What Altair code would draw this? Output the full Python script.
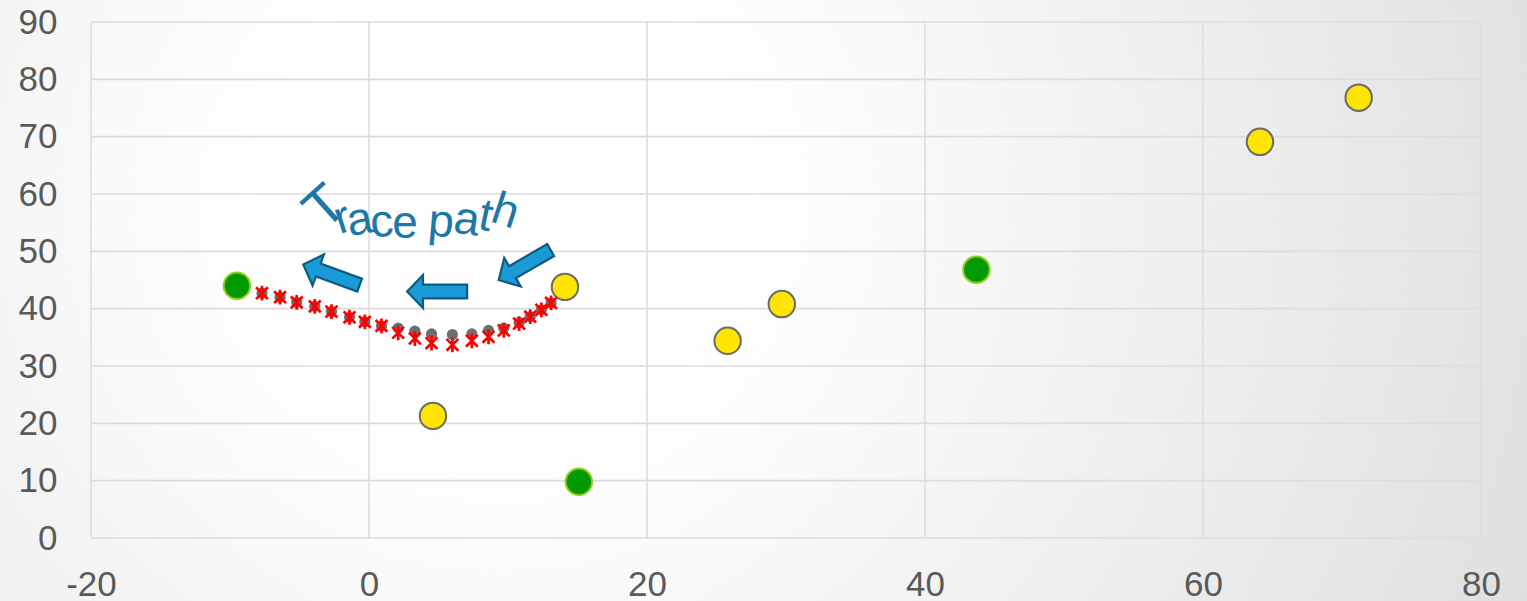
import altair as alt
import pandas as pd

# Axis ranges and tick values
X_TICKS = [-20, 0, 20, 40, 60, 80]
Y_TICKS = [0, 10, 20, 30, 40, 50, 60, 70, 80, 90]

# Large markers
yellow_x = [14.1, 4.6, 25.8, 29.7, 64.1, 71.2]
yellow_y = [43.8, 21.3, 34.4, 40.8, 69.1, 76.8]
green_x = [-9.5, 15.1, 43.7]
green_y = [44.0, 9.8, 46.8]

# Traced path between the two end markers
trace_x = [-7.7, -6.4, -5.2, -3.9, -2.7, -1.4, -0.3, 0.9, 2.1, 3.3,
           4.5, 6.0, 7.4, 8.6, 9.7, 10.8, 11.6, 12.4, 13.1]
trace_gray_y = [42.7, 42.0, 41.1, 40.4, 39.5, 38.5, 37.7, 37.0, 36.6, 36.1,
                35.6, 35.5, 35.6, 36.2, 36.6, 37.6, 38.6, 39.8, 41.0]
trace_red_y = [42.7, 42.0, 41.1, 40.4, 39.5, 38.5, 37.7, 37.0, 35.8, 34.8,
               34.0, 33.7, 34.4, 35.1, 36.2, 37.4, 38.6, 39.8, 41.0]

# Direction arrows (centre and rotation)
arrow_x = [-2.7, 4.9, 11.2]
arrow_y = [45.9, 43.0, 47.6]
arrow_angle = [20, 0, 330]

# "Trace path" set letter by letter along a curve
label_chars = ["T", "r", "a", "c", "e", "p", "a", "t", "h"]
label_x = [-2.3, -1.6, -0.5, 1.0, 2.6, 5.1, 6.9, 8.2, 9.5]
label_y = [55.4, 53.4, 53.0, 52.6, 52.4, 52.6, 53.0, 53.7, 54.6]
label_angle = [318, 342, 350, 355, 0, 5, 8, 12, 18]
label_size = [56, 46, 46, 46, 46, 46, 46, 46, 46]

W, H = 1390, 516
PAD = {"left": 91, "top": 22, "right": 46, "bottom": 63}
FONT = "Liberation Sans"

xs = alt.Scale(domain=[-20, 80], nice=False, zero=False)
ys = alt.Scale(domain=[0, 90], nice=False, zero=False)
common = dict(grid=False, domain=False, ticks=False, labelFontSize=35,
              labelColor="#595959", labelFont=FONT, labelFlush=False,
              labelExpr="'' + datum.value", zindex=1, title=None)
ax_x = alt.Axis(values=X_TICKS, labelPadding=29, **common)
ax_y = alt.Axis(values=Y_TICKS, labelPadding=34, **common)


def X(field):
    return alt.X(f"{field}:Q", scale=xs, axis=ax_x, title=None)


def Y(field):
    return alt.Y(f"{field}:Q", scale=ys, axis=ax_y, title=None)


vgrid = alt.Chart(pd.DataFrame({"x": X_TICKS})).mark_rule(
    color="#dcdcdc", strokeWidth=1.6).encode(x=X("x"))
hgrid = alt.Chart(pd.DataFrame({"y": Y_TICKS})).mark_rule(
    color="#dcdcdc", strokeWidth=1.6).encode(y=Y("y"))

# soft radial shading over the whole canvas
shade = alt.Chart(pd.DataFrame({"k": [0]})).mark_rect(
    fill={
        "gradient": "radial",
        "x1": 0.33, "y1": 0.434, "r1": 0,
        "x2": 0.33, "y2": 0.434, "r2": 0.75,
        "stops": [
            {"offset": 0, "color": "rgba(224,224,224,0)"},
            {"offset": 0.2, "color": "rgba(224,224,224,0)"},
            {"offset": 1, "color": "rgba(222,222,222,1)"},
        ],
    }
).encode(
    x=alt.value(-PAD["left"]), x2=alt.value(W + PAD["right"]),
    y=alt.value(-PAD["top"]), y2=alt.value(H + PAD["bottom"]),
)

trace_df = pd.DataFrame({"x": trace_x, "gy": trace_gray_y, "ry": trace_red_y})
gray_pts = alt.Chart(trace_df).mark_circle(
    size=125, color="#6e6e6e", opacity=1).encode(x=X("x"), y=Y("gy"))
red_pts = alt.Chart(trace_df).mark_point(
    shape="M-1,-1L1,1M-1,1L1,-1M0,-1.25L0,1.25", filled=False,
    stroke="#ff0000", strokeWidth=2.7, size=140, opacity=1
).encode(x=X("x"), y=Y("ry"))

ARROW = "M-1,0L-0.47,-0.55L-0.47,-0.23L1,-0.23L1,0.23L-0.47,0.23L-0.47,0.55Z"
arrows = alt.Chart(pd.DataFrame({"x": arrow_x, "y": arrow_y, "a": arrow_angle})).mark_point(
    shape=ARROW, filled=True, fill="#1a9ad6", stroke="#0f5b80",
    strokeWidth=2.2, size=3600, opacity=1
).encode(x=X("x"), y=Y("y"), angle=alt.Angle("a:Q", scale=None))

label = alt.Chart(pd.DataFrame({"x": label_x, "y": label_y, "t": label_chars,
                                "a": label_angle, "s": label_size})).mark_text(
    font=FONT, color="#1c78a6", align="center", baseline="alphabetic"
).encode(x=X("x"), y=Y("y"), text="t:N",
         angle=alt.Angle("a:Q", scale=None), size=alt.Size("s:Q", scale=None))

yellow = alt.Chart(pd.DataFrame({"x": yellow_x, "y": yellow_y})).mark_point(
    shape="circle", filled=True, fill="#ffe500", stroke="#6b6b6b",
    strokeWidth=2, size=700, opacity=1
).encode(x=X("x"), y=Y("y"))
green = alt.Chart(pd.DataFrame({"x": green_x, "y": green_y})).mark_point(
    shape="circle", filled=True, fill="#009a00", stroke="#92cc1c",
    strokeWidth=2, size=700, opacity=1
).encode(x=X("x"), y=Y("y"))

chart = alt.layer(
    vgrid, hgrid, shade, gray_pts, red_pts, arrows, label, yellow, green
).properties(
    width=W, height=H, padding=PAD,
    autosize=alt.AutoSizeParams(type="none"),
    background="white",
).configure_view(strokeWidth=0)

chart.save("out.html", embed_options={"renderer": "svg", "actions": False})
